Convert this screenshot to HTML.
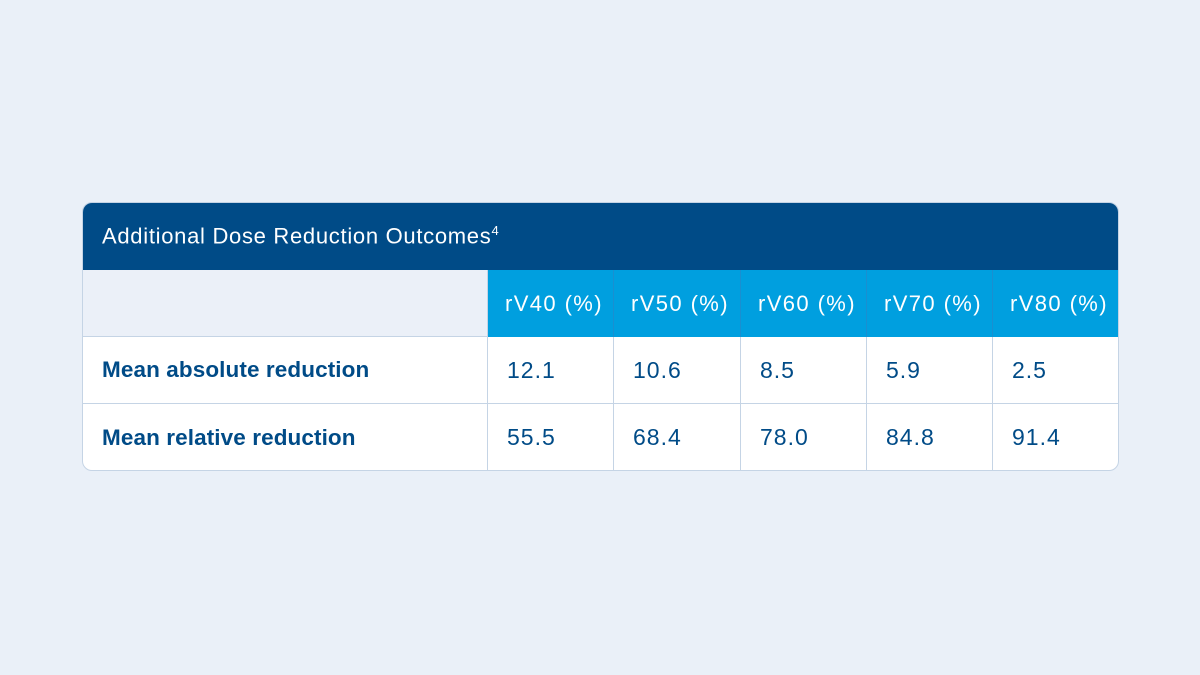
<!DOCTYPE html>
<html><head><style>
body{margin:0;width:1200px;height:675px;background:#eaf0f8;font-family:"Liberation Sans",sans-serif;position:relative;overflow:hidden}
.t{position:absolute;left:82px;top:202px;width:1037px;height:269px;border-radius:10px;overflow:hidden;border:1px solid #c5d4e5;box-sizing:border-box;background:#fff}
.h{position:absolute;left:0;top:0;width:100%;height:67px;background:#004b87;color:#fff;font-size:22px;letter-spacing:0.7px;display:flex;align-items:center}
.h span{padding-left:19px}
.c{position:absolute;box-sizing:border-box;color:#004b87;white-space:nowrap;display:flex;align-items:center;padding-left:19px}
.lab{font-weight:bold;font-size:22.5px;letter-spacing:0.1px}
.num{font-size:23px;letter-spacing:1px}
.hd{font-size:22px;letter-spacing:1.4px}
</style></head><body>
<div class="t">
<div class="h"><span>Additional Dose Reduction Outcomes<sup style="font-size:13px">4</sup></span></div>
<div class="c" style="left:0;top:67px;width:405px;height:67px;background:#ebf0f8;border-right:1px solid #c5d4e5;border-bottom:1px solid #c5d4e5"></div>
<div class="c lab" style="left:0;top:134px;width:405px;height:67px;border-right:1px solid #c5d4e5;border-bottom:1px solid #c5d4e5">Mean absolute reduction</div>
<div class="c lab" style="left:0;top:201px;width:405px;height:67px;border-right:1px solid #c5d4e5">Mean relative reduction</div>
<div id="cols"></div>
</div>
<script>
var xs=[405,531,658,784,910,1037],h=["rV40 (%)","rV50 (%)","rV60 (%)","rV70 (%)","rV80 (%)"],
r1=["12.1","10.6","8.5","5.9","2.5"],r2=["55.5","68.4","78.0","84.8","91.4"],s="";
for(var i=0;i<5;i++){var l=xs[i],w=xs[i+1]-xs[i];
s+='<div class="c hd" style="left:'+l+'px;top:67px;width:'+w+'px;height:67px;background:#009fdf;color:#fff;border-right:1px solid #1a8fd0;padding-left:17px">'+h[i]+'</div>';
s+='<div class="c num" style="left:'+l+'px;top:134px;width:'+w+'px;height:67px;border-right:1px solid #c5d4e5;border-bottom:1px solid #c5d4e5">'+r1[i]+'</div>';
s+='<div class="c num" style="left:'+l+'px;top:201px;width:'+w+'px;height:67px;border-right:1px solid #c5d4e5">'+r2[i]+'</div>';}
document.getElementById('cols').outerHTML=s;
</script>
</body></html>
